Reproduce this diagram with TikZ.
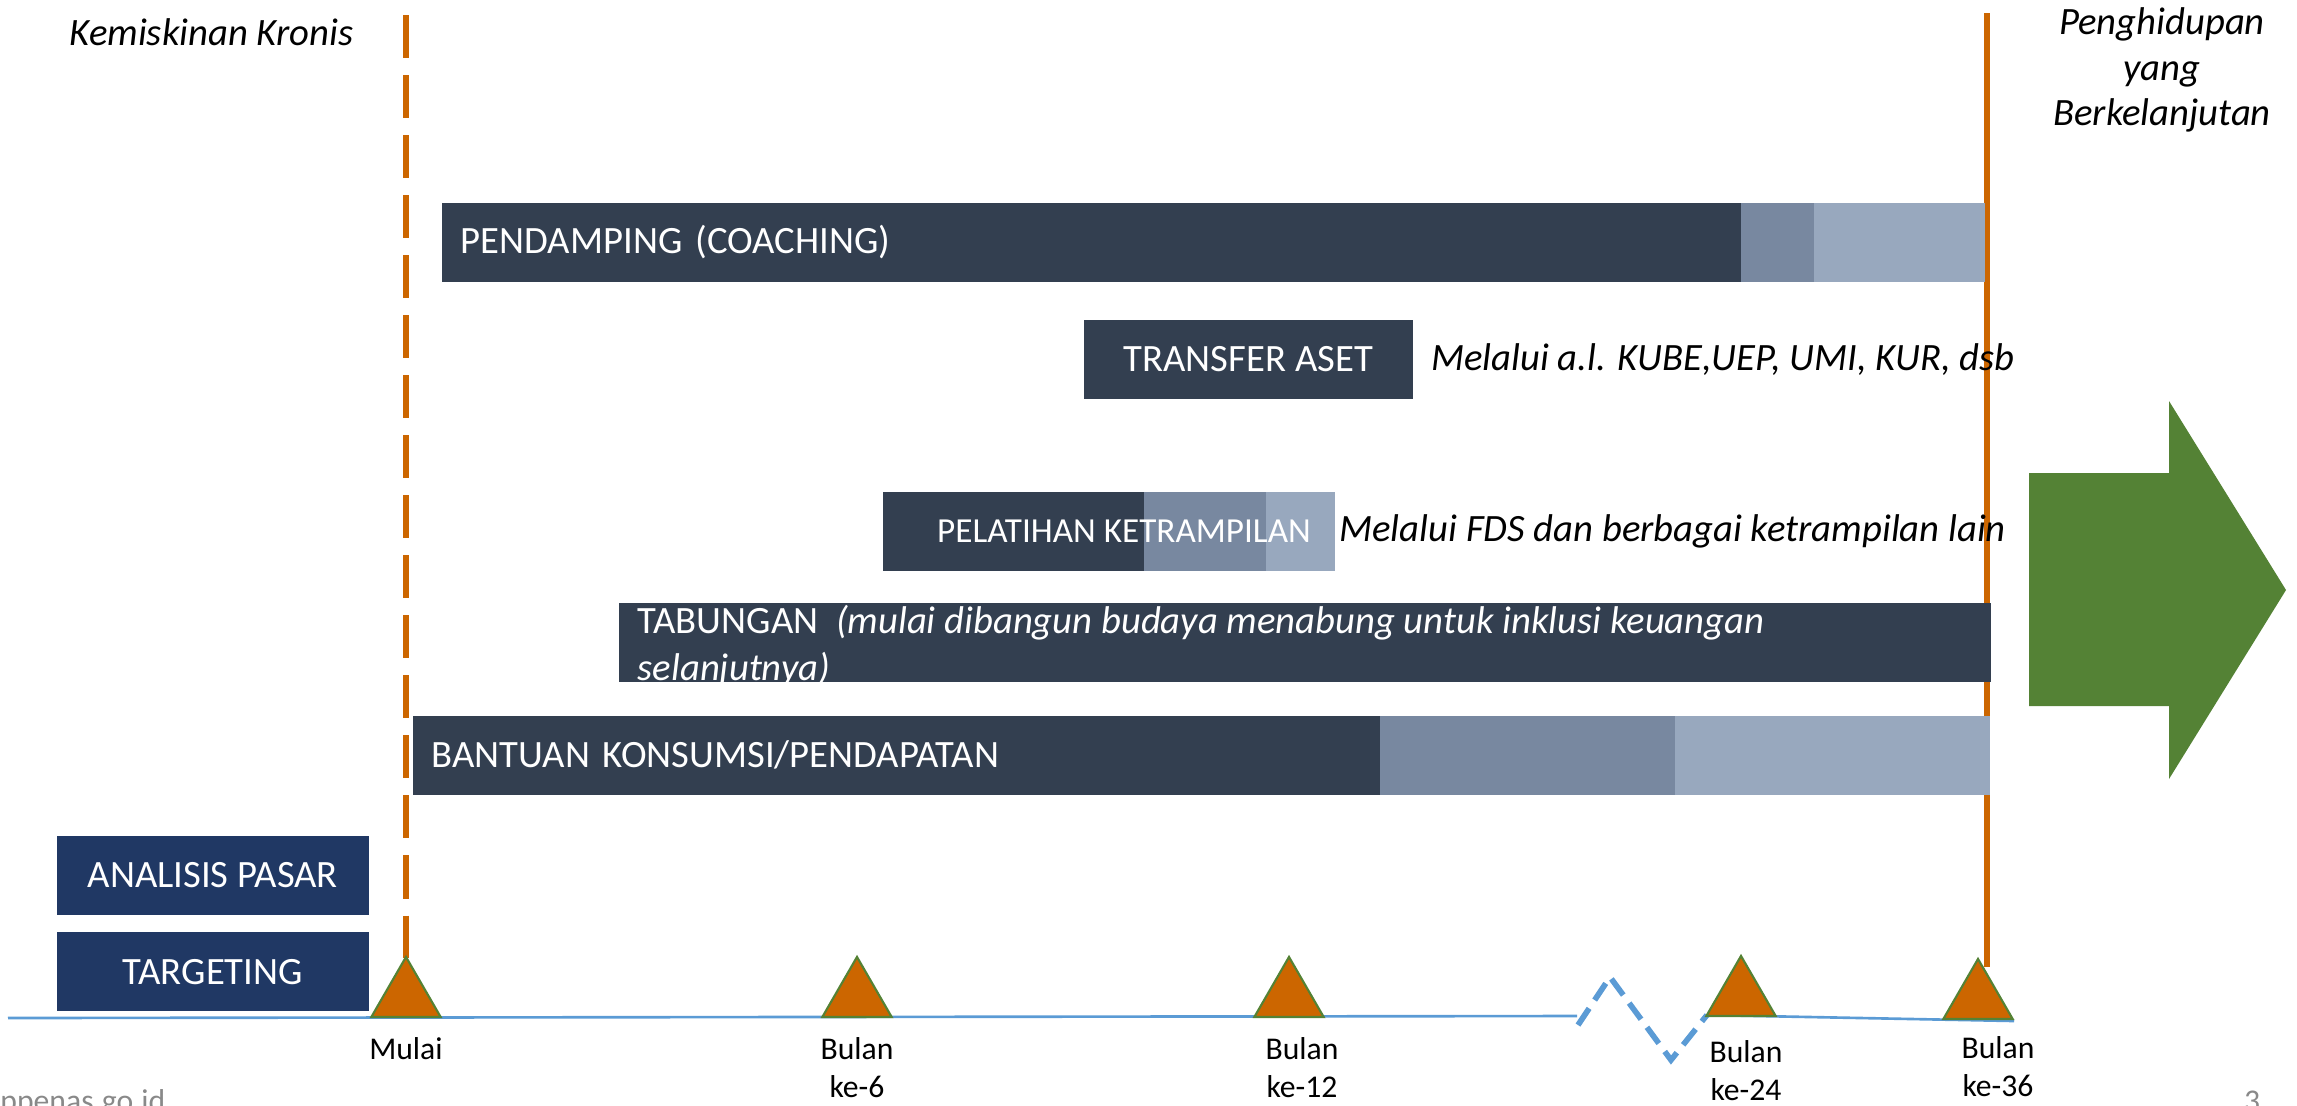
\documentclass[tikz,border=0pt]{standalone}
\usepackage{fontspec}
\setmainfont{Carlito}
\usetikzlibrary{positioning,shapes.geometric}

\definecolor{bardark}{HTML}{333F50}
\definecolor{barmid}{HTML}{7888A0}
\definecolor{barlight}{HTML}{98A8BE}
\definecolor{boxblue}{HTML}{203864}
\definecolor{lineorange}{HTML}{CC6600}
\definecolor{markgreen}{HTML}{548235}
\definecolor{tlblue}{HTML}{5B9BD5}
\definecolor{footgray}{HTML}{898989}

\tikzset{
  phase/.style={fill=bardark, text=white, minimum height=0.79cm, inner sep=0pt,
    font=\fontsize{11pt}{13.2pt}\selectfont},
  phasemid/.style={phase, fill=barmid},
  phaselight/.style={phase, fill=barlight},
  phasetext/.style={text=white, inner sep=0pt, font=\fontsize{11pt}{13.2pt}\selectfont},
  prep/.style={phase, fill=boxblue, minimum width=3.12cm},
  remark/.style={inner sep=0pt, font=\fontsize{11pt}{13.2pt}\selectfont\itshape},
  milestone/.style={regular polygon, regular polygon sides=3, minimum size=0.8cm,
    inner sep=0pt, fill=lineorange, draw=markgreen, line width=0.6pt},
  mslabel/.style={inner sep=0pt, align=center, font=\fontsize{9pt}{10.8pt}\selectfont},
  footer/.style={inner sep=0pt, text=footgray, font=\fontsize{9pt}{10.8pt}\selectfont},
  startline/.style={draw=lineorange, line width=1.6pt, dash pattern=on 0.43cm off 0.17cm},
  endline/.style={draw=lineorange, line width=1.6pt},
  timeline/.style={draw=tlblue, line width=0.75pt},
  gap/.style={draw=tlblue, line width=1.6pt, dash pattern=on 0.2cm off 0.1cm},
}

\begin{document}
\begin{tikzpicture}[x=0.01cm, y=-0.01cm]
  \useasboundingbox (0,0) rectangle (2297,1105);

  % start and end lines
  \coordinate (top0) at (406,15);
  \coordinate (bot0) at (406,958);
  \coordinate (top4) at (1987,13);
  \coordinate (bot4) at (1987,967);
  \draw[startline] (top0) -- (bot0);
  \draw[endline] (top4) -- (bot4);

  % Nodes
  % phases
  \node[phase, anchor=north west, text width=12.61cm, inner xsep=0.19cm, align=left] (coach) at (441,202) {PENDAMPING (COACHING)};
  \node[phasemid, right=-0.4pt of coach, minimum width=0.72cm] (coachb) {};
  \node[phaselight, right=-0.4pt of coachb, minimum width=1.71cm] (coachc) {};

  \node[phase, anchor=north west, minimum width=3.29cm] (asset) at (1083,319) {TRANSFER ASET};
  \node[remark, right=0.17cm of asset] (assetnote) {Melalui a.l. KUBE,UEP, UMI, KUR, dsb};

  \node[phase, anchor=north west, minimum width=2.61cm] (skill) at (882,491) {};
  \node[phasemid, right=-0.4pt of skill, minimum width=1.22cm] (skillb) {};
  \node[phaselight, right=-0.4pt of skillb, minimum width=0.69cm] (skillc) {};
  \node[phasetext, font=\fontsize{10pt}{12pt}\selectfont] (skilltext) at (1124,531) {PELATIHAN KETRAMPILAN};
  \node[remark, right=0.03cm of skillc] (skillnote) {Melalui FDS dan berbagai ketrampilan lain};

  \node[phase, anchor=north west, minimum width=13.71cm] (saving) at (618,602) {};
  \node[phasetext, anchor=west, align=left] (savingtext) at ([xshift=0.19cm, yshift=-0.04cm]saving.west)
    {TABUNGAN\ \ \textit{(mulai dibangun budaya menabung untuk inklusi keuangan}\\\textit{selanjutnya)}};

  \node[phase, anchor=north west, text width=9.29cm, inner xsep=0.19cm, align=left] (income) at (412,715) {BANTUAN KONSUMSI/PENDAPATAN};
  \node[phasemid, right=-0.4pt of income, minimum width=2.95cm] (incomeb) {};
  \node[phaselight, right=-0.4pt of incomeb, minimum width=3.14cm] (incomec) {};

  % preparation
  \node[prep, anchor=north west] (market) at (56,835) {ANALISIS PASAR};
  \node[prep, below=0.16cm of market] (target) {TARGETING};

  % states
  \node[remark, anchor=west] (poor) at (69,32) {Kemiskinan Kronis};
  \node[remark, align=center, font=\fontsize{11pt}{12.9pt}\selectfont\itshape] (live) at (2162,70) {Penghidupan\\yang\\Berkelanjutan};
  \fill[markgreen] (2029,473) -- (2169,473) -- (2169,401) -- (2286,590)
    -- (2169,779) -- (2169,706) -- (2029,706) -- cycle;

  % time line
  \coordinate (t0) at (8,1018);
  \coordinate (t1) at (1577,1016);
  \coordinate (z0) at (1578,1025);
  \coordinate (z1) at (1610,977);
  \coordinate (z2) at (1671,1060);
  \coordinate (z3) at (1707,1015);
  \coordinate (t2) at (2014,1021);
  \draw[timeline] (t0) -- (t1);
  \draw[gap] (z0) -- (z1) -- (z2) -- (z3);
  \draw[timeline] (z3) -- (t2);

  % milestones
  \node[milestone, anchor=side 2] (m0) at (406,1018) {};
  \node[milestone, anchor=side 2] (m1) at (857,1018) {};
  \node[milestone, anchor=side 2] (m2) at (1289,1018) {};
  \node[milestone, anchor=side 2] (m3) at (1741,1017) {};
  \node[milestone, anchor=side 2] (m4) at (1978,1020) {};
  \node[mslabel, below=0.19cm of m0] (l0) {Mulai};
  \node[mslabel, below=0.19cm of m1] (l1) {Bulan\\ke-6};
  \node[mslabel, below=0.19cm of m2, xshift=0.13cm] (l2) {Bulan\\ke-12};
  \node[mslabel, below=0.23cm of m3, xshift=0.05cm] (l3) {Bulan\\ke-24};
  \node[mslabel, below=0.16cm of m4, xshift=0.2cm] (l4) {Bulan\\ke-36};

  % footer
  \node[footer, anchor=base west] (site) at (-32,1111) {bappenas.go.id};
  \node[footer, anchor=base] (page) at (2252,1111) {3};
\end{tikzpicture}
\end{document}
